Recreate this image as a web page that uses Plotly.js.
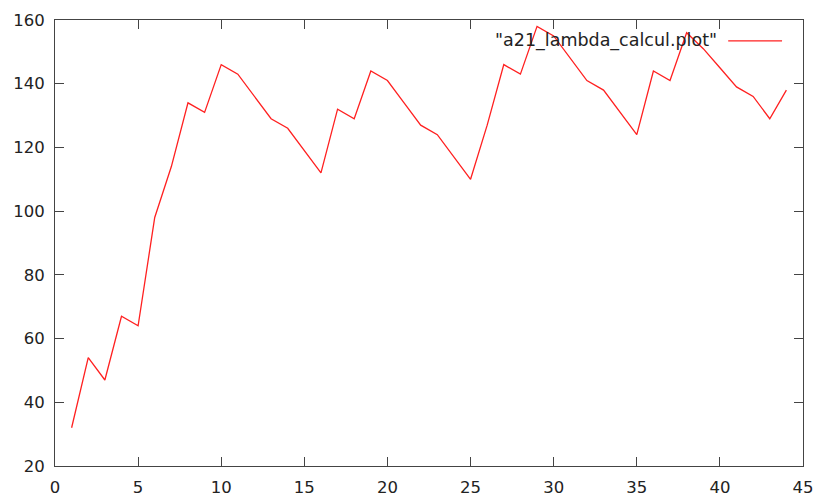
<!DOCTYPE html>
<html><head><meta charset="utf-8">
<script src="https://cdn.plot.ly/plotly-3.0.1.min.js"></script>
<style>html,body{margin:0;padding:0;background:#fff}#c{width:818px;height:502px}</style>
</head><body><div id="c"></div>
<script>
const xValues = [1,2,3,4,5,6,7,8,9,10,11,12,13,14,15,16,17,18,19,20,21,22,23,24,25,26,27,28,29,30,31,32,33,34,35,36,37,38,39,40,41,42,43,44];
const yValues = [32,54,47,67,64,98,114,134,131,146,143,136,129,126,119,112,132,129,144,141,134,127,124,117,110,127,146,143,158,155,148,141,138,131,124,144,141,156,151,145,139,136,129,138];
const seriesName = '"a21_lambda_calcul.plot"';
const xTicks = [0,5,10,15,20,25,30,35,40,45];
const yTicks = [20,40,60,80,100,120,140,160];

const axisCommon = {
  showgrid:false, zeroline:false, showline:true, mirror:'allticks',
  linecolor:'#444', linewidth:1, ticks:'inside', ticklen:9, tickcolor:'#444',
  tickfont:{family:'DejaVu Sans', size:16.5, color:'#222'}
};
const layout = {
  width:818, height:502,
  margin:{l:55, r:15, t:20, b:36},
  paper_bgcolor:'#fff', plot_bgcolor:'#fff',
  showlegend:false,
  xaxis:Object.assign({}, axisCommon, {range:[0,45], tickvals:xTicks, ticktext:xTicks.map(String), ticklabelstandoff:6}),
  yaxis:Object.assign({}, axisCommon, {range:[20,160], tickvals:yTicks, ticktext:yTicks.map(String), ticklabelstandoff:6}),
  annotations:[{xref:'paper', yref:'paper', x:0.888, y:0.953, xanchor:'right', yanchor:'middle',
    text:seriesName, showarrow:false, font:{family:'DejaVu Sans', size:17.5, color:'#222'}}],
  shapes:[{type:'line', xref:'paper', yref:'paper', x0:0.9, x1:0.972, y0:0.953, y1:0.953,
    line:{color:'#ff2020', width:1.3}}]
};
Plotly.newPlot('c', [{x:xValues, y:yValues, type:'scatter', mode:'lines', name:seriesName,
  line:{color:'#ff2020', width:1.3}}], layout, {staticPlot:true});
</script></body></html>
